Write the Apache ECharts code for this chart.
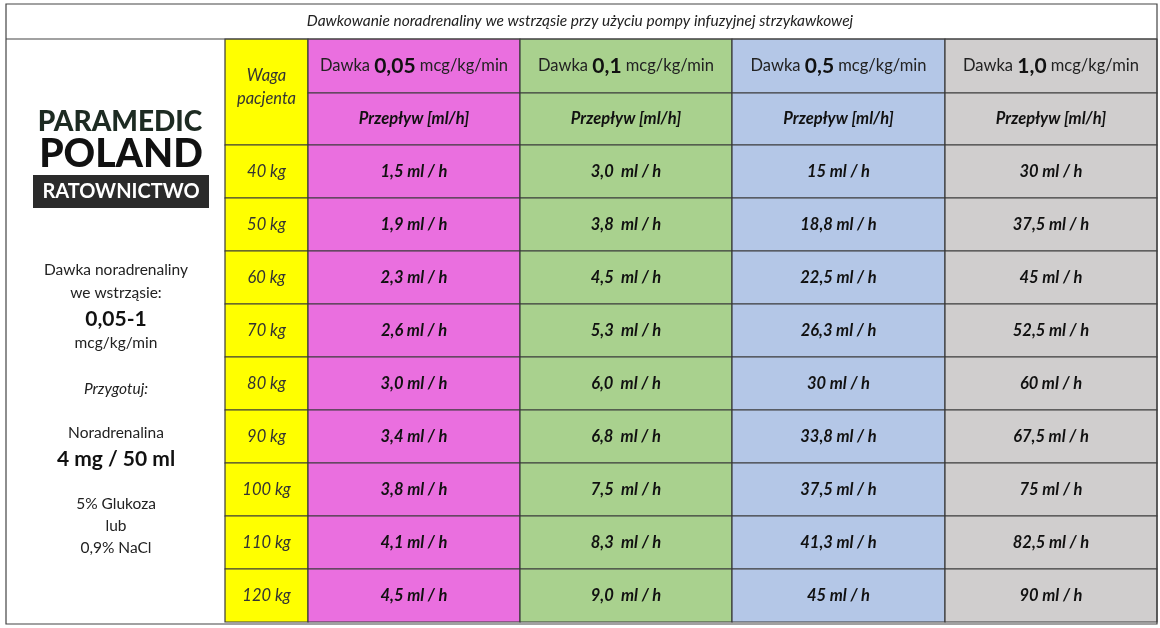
<!DOCTYPE html>
<html><head><meta charset="utf-8">
<script src="https://cdn.jsdelivr.net/npm/echarts@6/dist/echarts.min.js"></script>
<style>html,body{margin:0;padding:0;background:#fff}#c{width:1160px;height:628px}</style>
</head><body><div id="c"></div>
<script>
const title = 'Dawkowanie noradrenaliny we wstrząsie przy użyciu pompy infuzyjnej strzykawkowej';
const weights = ['40 kg','50 kg','60 kg','70 kg','80 kg','90 kg','100 kg','110 kg','120 kg'];
const doses = ['0,05','0,1','0,5','1,0'];
const flow005 = ['1,5','1,9','2,3','2,6','3,0','3,4','3,8','4,1','4,5'];
const flow01 = ['3,0','3,8','4,5','5,3','6,0','6,8','7,5','8,3','9,0'];
const flow05 = ['15','18,8','22,5','26,3','30','33,8','37,5','41,3','45'];
const flow10 = ['30','37,5','45','52,5','60','67,5','75','82,5','90'];

const colEdges = [0,83,295,507,720,932];
const rowEdges = [0,54,106]; for (let i=1;i<=9;i++) rowEdges.push(106+53*i);
const colors = ['#ffff00','#ea6fdf','#a9d18e','#b4c7e7','#d0cece'];
const F = 'Lato, "Open Sans", sans-serif';
const L = (x,y,t,font,fill)=>({type:'text',x:x,y:y,style:{text:t,font:font,fill:fill||'#222',align:'center',verticalAlign:'middle'}});

const cells = [];
cells.push({c:0,r0:0,r1:2,t:'{w|Waga\npacjenta}',top:true});
doses.forEach((d,i)=>{
  cells.push({c:i+1,r0:0,r1:1,t:'{n|Dawka }{b|'+d+'}{n| mcg/kg/min}'});
  cells.push({c:i+1,r0:1,r1:2,t:'{d|Przepływ [ml/h]}'});
});
const flows=[flow005,flow01,flow05,flow10];
weights.forEach((w,r)=>{
  cells.push({c:0,r0:r+2,r1:r+3,t:'{w|'+w+'}'});
  flows.forEach((f,i)=>{
    const sep = i===1 ? '  ml / h' : ' ml / h';
    cells.push({c:i+1,r0:r+2,r1:r+3,t:'{d|'+f[r]+sep+'}'});
  });
});

const chart = echarts.init(document.getElementById('c'));
chart.setOption({
  animation:false,
  grid:{left:225,right:3,top:39,bottom:4},
  xAxis:{type:'value',min:0,max:932,show:false},
  yAxis:{type:'value',min:0,max:585,inverse:true,show:false},
  graphic:[
    {type:'rect',shape:{x:6,y:4,width:1151,height:620},style:{fill:'none',stroke:'#444',lineWidth:1.2},z:10},
    {type:'line',shape:{x1:6,y1:39,x2:1157,y2:39},style:{stroke:'#444',lineWidth:1.2},z:10},
    L(580,21,title,'italic 15.5px '+F),
    L(120,122,'PARAMEDIC','900 28px '+F,'#1d2b22'),
    L(121,154,'POLAND','900 39px '+F,'#111'),
    {type:'rect',shape:{x:33,y:175,width:176,height:33},style:{fill:'#2b2b2b'}},
    L(121,192,'RATOWNICTWO','bold 20px '+F,'#fff'),
    L(116,270,'Dawka noradrenaliny','15.5px '+F),
    L(116,293,'we wstrząsie:','15.5px '+F),
    L(116,319,'0,05-1','bold 21px '+F,'#111'),
    L(116,343,'mcg/kg/min','15.5px '+F),
    L(116,389,'Przygotuj:','italic 15.5px '+F),
    L(116,433,'Noradrenalina','15.5px '+F),
    L(116,459,'4 mg / 50 ml','bold 21px '+F,'#111'),
    L(116,504,'5% Glukoza','15.5px '+F),
    L(116,526,'lub','15.5px '+F),
    L(116,548,'0,9% NaCl','15.5px '+F)
  ],
  series:[{
    type:'custom',
    data:cells.map(c=>[c.c,c.r0,c.r1]),
    renderItem:(params,api)=>{
      const cell=cells[params.dataIndex];
      const p0=api.coord([colEdges[cell.c],rowEdges[cell.r0]]);
      const p1=api.coord([colEdges[cell.c+1],rowEdges[cell.r1]]);
      const w=p1[0]-p0[0],h=p1[1]-p0[1];
      return {type:'group',children:[
        {type:'rect',shape:{x:p0[0],y:p0[1],width:w,height:h},style:{fill:colors[cell.c],stroke:'#3a3a3a',lineWidth:1.2}},
        {type:'text',x:p0[0]+w/2,y:cell.top?p0[1]+h*0.45:p0[1]+h/2,style:{text:cell.t,align:'center',verticalAlign:'middle',
          rich:{
            n:{font:'16.5px '+F,fill:'#222'},
            b:{font:'bold 21px '+F,fill:'#111'},
            d:{font:'italic bold 16.5px '+F,fill:'#111'},
            w:{font:'italic 16.5px '+F,fill:'#333',lineHeight:23,align:'center'}
          }}}
      ]};
    }
  }]
});
</script></body></html>
